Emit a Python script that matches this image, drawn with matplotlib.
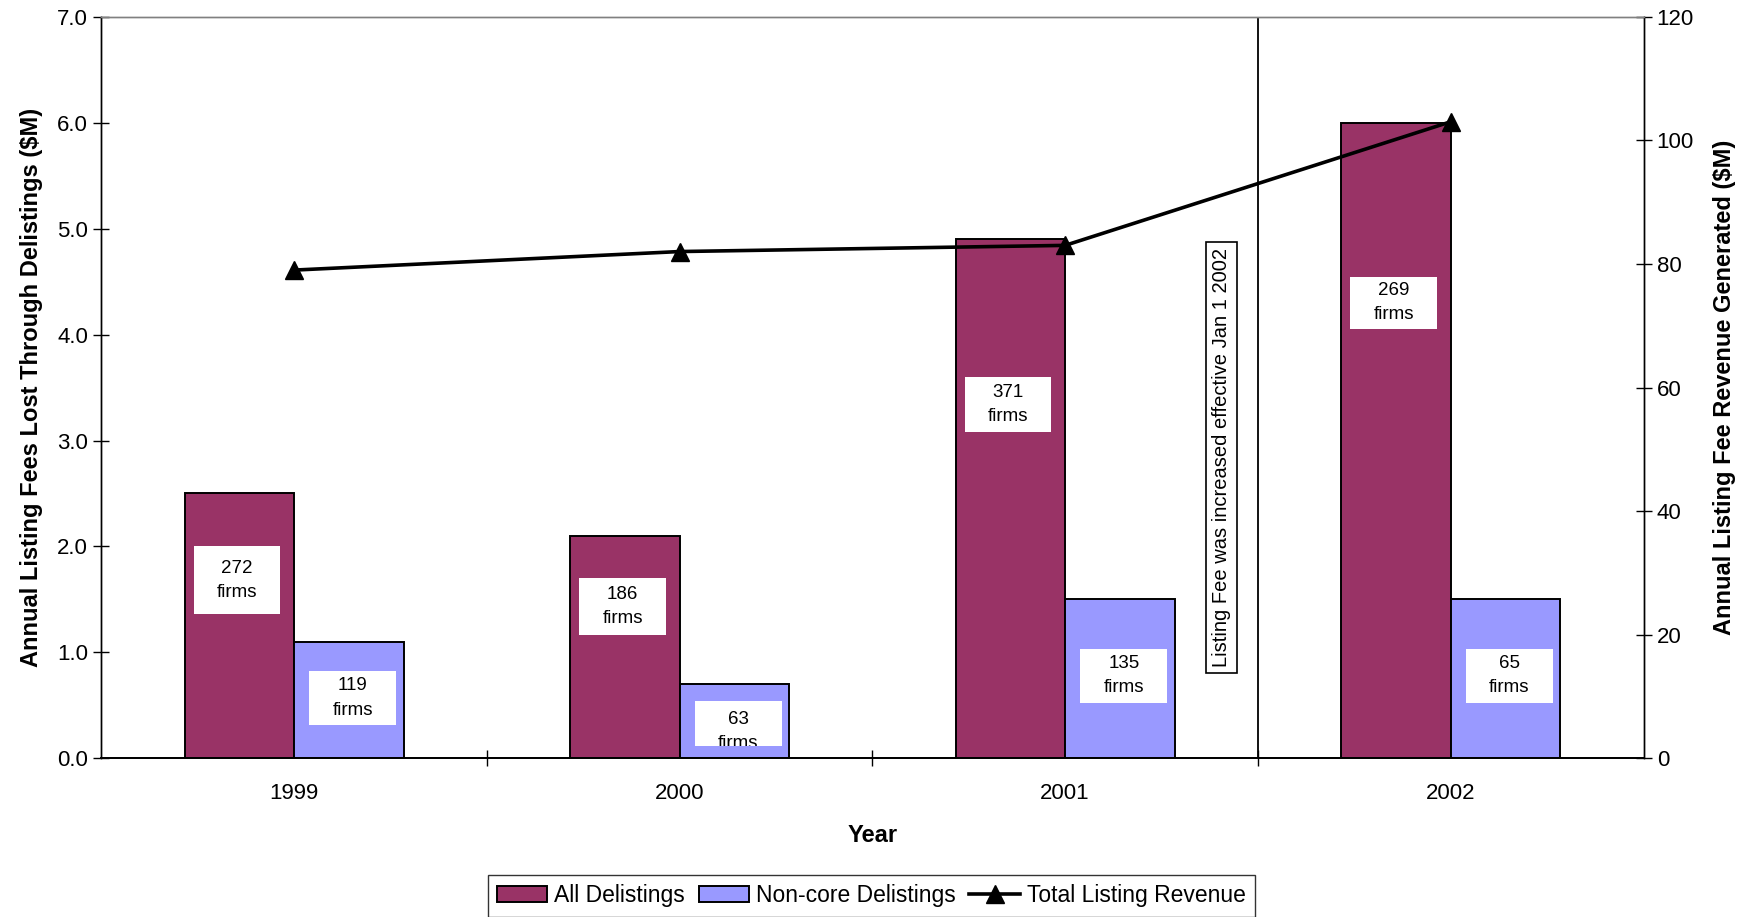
import matplotlib.pyplot as plt
import matplotlib.patches as mpatches
from matplotlib.transforms import Bbox, TransformedBbox
import numpy as np

years = ["1999", "2000", "2001", "2002"]
all_delistings = [2.5, 2.1, 4.9, 6.0]
noncore_delistings = [1.1, 0.7, 1.5, 1.5]
total_revenue = [79, 82, 83, 103]
all_firms = [272, 186, 371, 269]
noncore_firms = [119, 63, 135, 65]

# label box layout (centre y in left-axis units, box height)
all_box_y = [1.68, 1.43, 3.34, 4.30]
all_box_h = [0.64, 0.54, 0.52, 0.49]
noncore_box_y = [0.57, 0.33, 0.78, 0.78]
noncore_box_h = [0.51, 0.43, 0.51, 0.51]
noncore_text_dy = [0.0, -0.08, 0.0, 0.0]

PLUM = "#993366"
LAVENDER = "#9999FF"

plt.rcParams["font.family"] = ["Liberation Sans", "DejaVu Sans"]


def add_label(ax, x, y, h, count, dy=0.0, w=0.225):
    x0, y0 = x - w / 2, y - h / 2
    rect = mpatches.Rectangle((x0, y0), w, h, facecolor="white",
                              edgecolor="none", zorder=4)
    ax.add_patch(rect)
    t = ax.text(x, y + dy, f"{count}\nfirms", ha="center", va="center",
                fontsize=13.5, linespacing=1.55, zorder=5)
    # text is cut off by its box like in the original
    t.set_clip_box(TransformedBbox(Bbox.from_extents(x0, y0, x0 + w, y0 + h),
                                   ax.transData))
    t.set_clip_on(True)


def main():
    fig = plt.figure(figsize=(17.46, 9.17), dpi=100)
    ax = fig.add_axes([0.058, 0.173, 0.8833, 0.8088])
    ax2 = ax.twinx()

    x = np.arange(len(years))
    bw = 0.284
    ax.bar(x - bw / 2, all_delistings, bw, color=PLUM, edgecolor="black",
           linewidth=1.4, label="All Delistings", zorder=3)
    ax.bar(x + bw / 2, noncore_delistings, bw, color=LAVENDER, edgecolor="black",
           linewidth=1.4, label="Non-core Delistings", zorder=3)

    for i in range(len(years)):
        add_label(ax, x[i] - bw / 2 - 0.006, all_box_y[i], all_box_h[i], all_firms[i])
        add_label(ax, x[i] + bw / 2 + 0.01, noncore_box_y[i], noncore_box_h[i],
                  noncore_firms[i], dy=noncore_text_dy[i])

    line, = ax2.plot(x, total_revenue, color="black", linewidth=2.6, marker="^",
                     markersize=13, label="Total Listing Revenue", zorder=6)

    # fee change marker
    ax.axvline(2.5, color="black", linewidth=1.3, zorder=2)
    ax.text(2.405, 2.84, "Listing Fee was increased effective Jan 1 2002",
            rotation=90, ha="center", va="center", fontsize=14.5, zorder=5,
            bbox=dict(boxstyle="square,pad=0.3", facecolor="white",
                      edgecolor="black", linewidth=1.2))

    ax.set_xlim(-0.5, 3.5)
    ax.set_ylim(0, 7)
    ax2.set_ylim(0, 120)
    ax.set_yticks(np.arange(0, 7.01, 1.0))
    ax.set_yticklabels([f"{v:.1f}" for v in np.arange(0, 7.01, 1.0)])
    ax2.set_yticks(np.arange(0, 121, 20))

    ax.set_xticks(x)
    ax.set_xticklabels(years)
    ax.set_xticks([0.5, 1.5, 2.5], minor=True)
    ax.tick_params(axis="x", which="major", length=0, labelsize=16, pad=18)
    ax.tick_params(axis="x", which="minor", direction="inout", length=12, width=1)
    ax.tick_params(axis="y", direction="inout", length=12, width=1, labelsize=16)
    ax2.tick_params(axis="y", direction="inout", length=12, width=1, labelsize=16)

    for a in (ax, ax2):
        a.spines["top"].set_color("#808080")
        a.spines["top"].set_linewidth(1.0)
        a.spines["left"].set_linewidth(1.0)
        a.spines["right"].set_linewidth(1.0)
        a.spines["bottom"].set_linewidth(1.3)

    ax.set_xlabel("Year", fontsize=17, fontweight="bold", labelpad=14)
    ax.set_ylabel("Annual Listing Fees Lost Through Delistings ($M)", fontsize=17,
                  fontweight="bold", labelpad=10)
    ax2.set_ylabel("Annual Listing Fee Revenue Generated ($M)", fontsize=17,
                   fontweight="bold", labelpad=14)

    handles = ax.get_legend_handles_labels()[0] + [line]
    labels = ["All Delistings", "Non-core Delistings", "Total Listing Revenue"]
    leg = fig.legend(handles, labels, loc="upper center", bbox_to_anchor=(0.499, 0.058),
                     ncol=3, fontsize=16.5, frameon=True, fancybox=False,
                     edgecolor="black", handlelength=2.2, handletextpad=0.3,
                     columnspacing=0.6, borderpad=0.4)
    leg.get_frame().set_linewidth(1.0)

    fig.savefig("out.png", dpi=100)


if __name__ == "__main__":
    main()
